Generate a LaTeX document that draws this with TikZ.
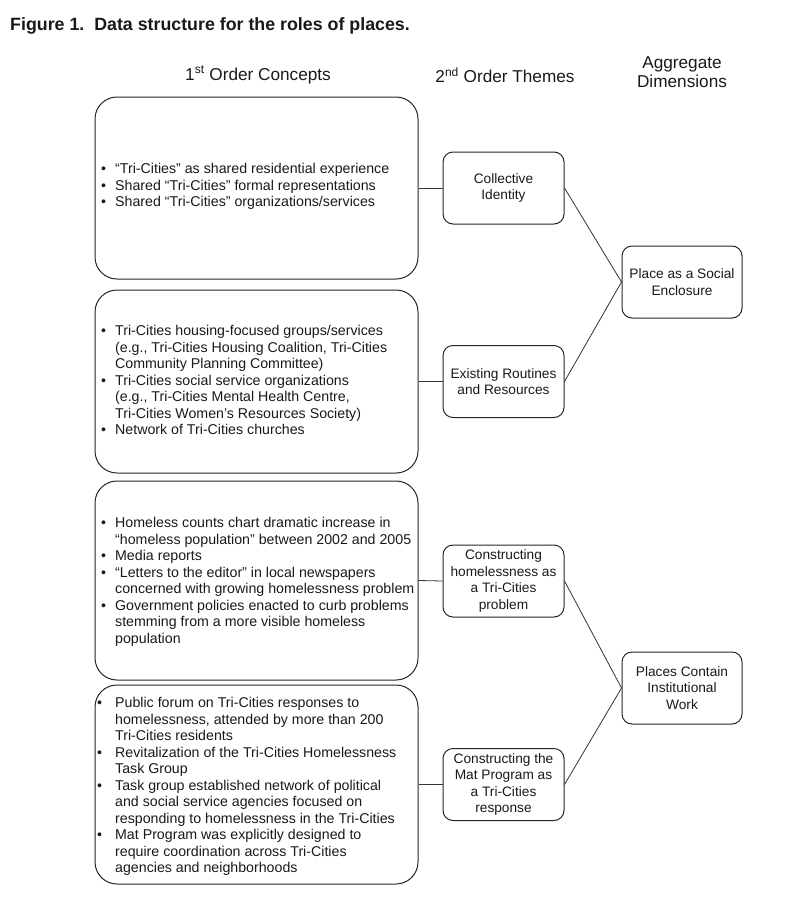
\documentclass[tikz,border=0pt]{standalone}
\usepackage{fontspec}
\setmainfont{Liberation Sans}
\newcommand\bl{\textbullet}
\begin{document}
\begin{tikzpicture}[x=1pt,y=-1pt,
  every node/.style={inner sep=0pt, text=black!90},
  bigbox/.style={draw=black!85, line width=1pt, rounded corners=22pt,
    minimum width=323pt},
  smallbox/.style={draw=black!85, line width=1pt, rounded corners=10pt,
    minimum width=121pt, minimum height=72pt, align=center,
    font=\fontsize{13.7}{16.6}\selectfont},
  aggbox/.style={smallbox, minimum width=120pt},
  concepts/.style={anchor=west, align=left, font=\fontsize{14.2}{16.5}\selectfont},
  head/.style={align=center, font=\fontsize{17.2}{19}\selectfont},
  link/.style={draw=black!80, line width=0.8pt}
]
\useasboundingbox (0,0) rectangle (790,900);

% title and column headings
\node[anchor=base west, font=\fontsize{17.8}{20}\bfseries\selectfont] (title) at (10,30)
  {Figure 1.\ \ Data structure for the roles of places.};
\node[head] (h1) at (258,75) {1\textsuperscript{st} Order Concepts};
\node[head] (h2) at (505,75) {2\textsuperscript{nd} Order Themes};
\node[head] (h3) at (682,72) {Aggregate\\Dimensions};

% first order concept boxes
\node[bigbox, minimum height=182pt] (b1) at (256.5,188) {};
\node[bigbox, minimum height=183pt] (b2) at (256.5,381.5) {};
\node[bigbox, minimum height=199pt] (b3) at (256.5,580.5) {};
\node[bigbox, minimum height=199pt] (b4) at (256.5,784.5) {};

\node[concepts] (c1) at (101,187) {%
\begin{tabular}{@{}l@{\hspace{9pt}}l@{}}
\bl & “Tri-Cities” as shared residential experience\\
\bl & Shared “Tri-Cities” formal representations\\
\bl & Shared “Tri-Cities” organizations/services
\end{tabular}};

\node[concepts] (c2) at (101,382) {%
\begin{tabular}{@{}l@{\hspace{9pt}}l@{}}
\bl & Tri-Cities housing-focused groups/services\\
 & (e.g., Tri-Cities Housing Coalition, Tri-Cities\\
 & Community Planning Committee)\\
\bl & Tri-Cities social service organizations\\
 & (e.g., Tri-Cities Mental Health Centre,\\
 & Tri-Cities Women’s Resources Society)\\
\bl & Network of Tri-Cities churches
\end{tabular}};

\node[concepts] (c3) at (101,582) {%
\begin{tabular}{@{}l@{\hspace{9pt}}l@{}}
\bl & Homeless counts chart dramatic increase in\\
 & “homeless population” between 2002 and 2005\\
\bl & Media reports\\
\bl & “Letters to the editor” in local newspapers\\
 & concerned with growing homelessness problem\\
\bl & Government policies enacted to curb problems\\
 & stemming from a more visible homeless\\
 & population
\end{tabular}};

\node[concepts] (c4) at (97,787) {%
\begin{tabular}{@{}l@{\hspace{13pt}}l@{}}
\bl & Public forum on Tri-Cities responses to\\
 & homelessness, attended by more than 200\\
 & Tri-Cities residents\\
\bl & Revitalization of the Tri-Cities Homelessness\\
 & Task Group\\
\bl & Task group established network of political\\
 & and social service agencies focused on\\
 & responding to homelessness in the Tri-Cities\\
\bl & Mat Program was explicitly designed to\\
 & require coordination across Tri-Cities\\
 & agencies and neighborhoods
\end{tabular}};

% second order themes
\node[smallbox] (t1) at (503.5,188) {Collective\\Identity};
\node[smallbox] (t2) at (503.5,381.5) {Existing Routines\\and Resources};
\node[smallbox] (t3) at (503.5,581) {Constructing\\homelessness as\\a Tri-Cities\\problem};
\node[smallbox] (t4) at (503.5,784.5) {Constructing the\\Mat Program as\\a Tri-Cities\\response};

% aggregate dimensions
\node[aggbox] (a1) at (682,282) {Place as a Social\\Enclosure};
\node[aggbox] (a2) at (682,688) {Places Contain\\Institutional\\Work};

% connectors
\foreach \i in {1,2,3,4}
  \draw[link] (b\i.east) -- (t\i.west);
\draw[link] (t1.east) -- (a1.west);
\draw[link] (t2.east) -- (a1.west);
\draw[link] (t3.east) -- (a2.west);
\draw[link] (t4.east) -- (a2.west);
\end{tikzpicture}
\end{document}
